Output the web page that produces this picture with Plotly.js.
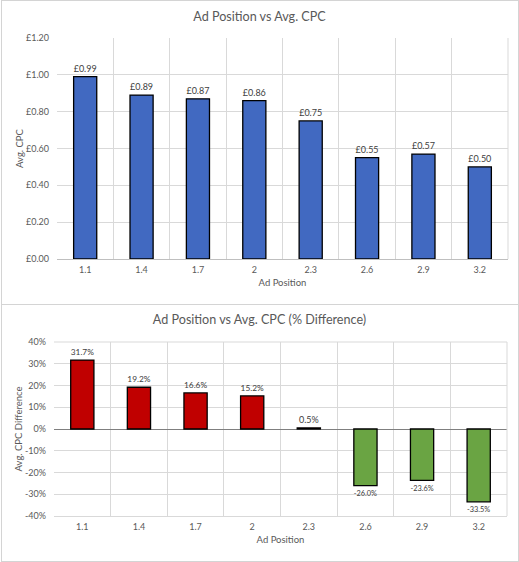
<!DOCTYPE html>
<html>
<head>
<meta charset="utf-8">
<script src="https://cdn.plot.ly/plotly-3.0.1.min.js"></script>
<style>
  html, body { margin: 0; padding: 0; background: #ffffff; }
  .frame { position: absolute; border: 1px solid #d4d4d4; pointer-events: none; z-index: 10; box-sizing: border-box; }
</style>
</head>
<body>
<div id="c1" style="position:absolute;left:0;top:0;width:519px;height:304px"></div>
<div id="c2" style="position:absolute;left:0;top:304px;width:519px;height:258px"></div>
<div class="frame" style="left:1px;top:0px;width:518px;height:305px"></div>
<div class="frame" style="left:1px;top:304px;width:518px;height:258px"></div>
<script>
// ---- data ----
var adPositions = ["1.1", "1.4", "1.7", "2", "2.3", "2.6", "2.9", "3.2"];
var avgCpc = [0.99, 0.89, 0.87, 0.86, 0.75, 0.55, 0.57, 0.50];
var cpcDiffPct = [0.317, 0.192, 0.166, 0.152, 0.005, -0.260, -0.236, -0.335];
var cpcTickVals = [0, 0.2, 0.4, 0.6, 0.8, 1.0, 1.2];
var cpcTickText = ["£0.00", "£0.20", "£0.40", "£0.60", "£0.80", "£1.00", "£1.20"];
var diffTickVals = [-0.4, -0.3, -0.2, -0.1, 0, 0.1, 0.2, 0.3, 0.4];
var diffTickText = ["-40%", "-30%", "-20%", "-10%", "0%", "10%", "20%", "30%", "40%"];

var FONT = "Lato, 'Liberation Sans', sans-serif";
var GREY = "#595959";
var GRID = "#d9d9d9";

// ---- chart 1 ----
var t1 = {
  type: "bar",
  x: adPositions,
  y: avgCpc,
  text: avgCpc.map(function (v) { return "£" + v.toFixed(2); }),
  textposition: "outside",
  cliponaxis: false,
  textfont: { family: FONT, size: 9, color: "#404040" },
  marker: { color: "#4169c1", line: { color: "#000000", width: 1.3 } },
  hoverinfo: "x+y"
};
var l1 = {
  width: 519, height: 304,
  margin: { l: 57, r: 11, t: 38, b: 45 },
  paper_bgcolor: "#ffffff", plot_bgcolor: "#ffffff",
  bargap: 0.59,
  showlegend: false,
  font: { family: FONT, color: GREY },
  title: { text: "Ad Position vs Avg. CPC", font: { family: FONT, size: 12.6, color: GREY },
           x: 0.5, xref: "container", y: 1 - 17 / 304, yref: "container", yanchor: "middle" },
  xaxis: {
    type: "category", tickson: "boundaries", ticks: "",
    showgrid: true, gridcolor: GRID, gridwidth: 1,
    showline: true, linecolor: "#bfbfbf", mirror: false,
    tickfont: { family: FONT, size: 9, color: GREY }, ticklabelstandoff: 2,
    title: { text: "Ad Position", font: { family: FONT, size: 9.5, color: GREY }, standoff: 5 },
    automargin: false, fixedrange: true
  },
  yaxis: {
    range: [0, 1.2], tickvals: cpcTickVals, ticktext: cpcTickText,
    showgrid: true, gridcolor: GRID, gridwidth: 1, zeroline: false,
    showline: false, ticks: "",
    tickfont: { family: FONT, size: 9, color: GREY }, ticklabelstandoff: 7,
    title: { text: "Avg. CPC", font: { family: FONT, size: 9.5, color: GREY }, standoff: 0 },
    automargin: false, fixedrange: true
  },
  shapes: [
    { type: "line", xref: "paper", yref: "paper", x0: 1, x1: 1, y0: 0, y1: 1, line: { color: GRID, width: 1 } }
  ]
};
Plotly.newPlot("c1", [t1], l1, { displayModeBar: false, staticPlot: true });

// ---- chart 2 ----
var t2 = {
  type: "bar",
  x: adPositions,
  y: cpcDiffPct,
  text: cpcDiffPct.map(function (v) { return (v * 100).toFixed(1) + "%"; }),
  textposition: "outside",
  cliponaxis: false,
  textfont: { family: FONT, size: 9, color: "#404040" },
  marker: {
    color: cpcDiffPct.map(function (v) { return v >= 0 ? "#c00000" : "#6aa443"; }),
    line: { color: "#000000", width: 1.3 }
  },
  hoverinfo: "x+y"
};
var l2 = {
  width: 519, height: 258,
  margin: { l: 54, r: 12, t: 38, b: 46 },
  paper_bgcolor: "#ffffff", plot_bgcolor: "#ffffff",
  bargap: 0.59,
  showlegend: false,
  font: { family: FONT, color: GREY },
  title: { text: "Ad Position vs Avg. CPC (% Difference)", font: { family: FONT, size: 12.6, color: GREY },
           x: 0.5, xref: "container", y: 1 - 16 / 258, yref: "container", yanchor: "middle" },
  xaxis: {
    type: "category", tickson: "boundaries", ticks: "",
    showgrid: true, gridcolor: GRID, gridwidth: 1,
    showline: true, linecolor: GRID,
    tickfont: { family: FONT, size: 9, color: GREY }, ticklabelstandoff: 2,
    title: { text: "Ad Position", font: { family: FONT, size: 9.5, color: GREY }, standoff: 5 },
    automargin: false, fixedrange: true
  },
  yaxis: {
    range: [-0.4, 0.4], tickvals: diffTickVals, ticktext: diffTickText,
    showgrid: true, gridcolor: GRID, gridwidth: 1,
    zeroline: true, zerolinecolor: "#7f7f7f", zerolinewidth: 1,
    showline: false, ticks: "",
    tickfont: { family: FONT, size: 9, color: GREY }, ticklabelstandoff: 7,
    title: { text: "Avg. CPC Difference", font: { family: FONT, size: 9.5, color: GREY }, standoff: 0 },
    automargin: false, fixedrange: true
  },
  shapes: [
    { type: "line", xref: "paper", yref: "paper", x0: 1, x1: 1, y0: 0, y1: 1, line: { color: GRID, width: 1 } },
    { type: "line", xref: "paper", yref: "paper", x0: 0, x1: 1, y0: 1, y1: 1, line: { color: GRID, width: 1 } }
  ]
};
Plotly.newPlot("c2", [t2], l2, { displayModeBar: false, staticPlot: true });
</script>
</body>
</html>
